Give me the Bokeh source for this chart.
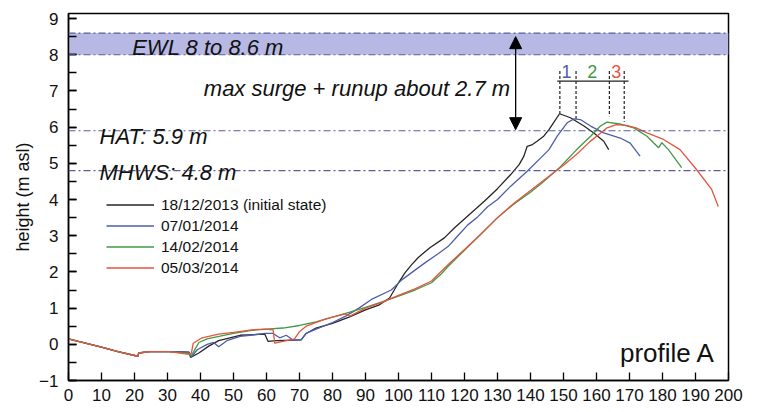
from bokeh.plotting import figure
from bokeh.models import (ColumnDataSource, Range1d, SingleIntervalTicker, Arrow,
                          NormalHead, Span, BoxAnnotation, Label)
from bokeh.core.properties import value
from bokeh.embed import file_html
from bokeh.resources import INLINE

# ---------------- data ----------------
common_x = [0, 3, 10, 15, 21, 21.3, 24.5, 30.5]
common_y = [0.15, 0.08, -0.08, -0.2, -0.33, -0.24, -0.2, -0.2]

black_x = common_x + [36.5, 37, 39.5, 42.5, 45.5, 52, 59.5, 60.5, 63, 70.5, 72, 75, 80, 85, 90,
                      94, 97.3, 100, 102, 104, 106, 109.5, 113.9, 117, 122, 126, 130, 134,
                      136.6, 138, 139, 140.6, 142, 144, 145.6, 148.8, 152.1, 156.2, 159.2,
                      162.2, 163.7]
black_y = common_y + [-0.22, -0.36, -0.24, -0.05, 0.1, 0.25, 0.28, 0.08, 0.1, 0.12, 0.3, 0.45,
                      0.58, 0.75, 0.95, 1.08, 1.28, 1.7, 1.98, 2.2, 2.4, 2.67, 2.94, 3.22, 3.63,
                      3.95, 4.3, 4.69, 4.97, 5.2, 5.47, 5.52, 5.61, 5.75, 5.93, 6.37, 6.26,
                      6.03, 5.84, 5.61, 5.38]

blue_x = common_x + [36.5, 37.2, 39, 42, 44, 45.5, 48, 52, 55, 59.5, 62, 64, 66, 68, 70.5, 72,
                     75, 80, 84, 88, 91.8, 97.8, 101, 105, 108, 112, 115, 118, 121, 124, 127,
                     130, 134, 139, 143.1, 145.6, 148.1, 151.1, 153.2, 155.1, 158.2, 162.2,
                     167.2, 170.2, 173.2]
blue_y = common_y + [-0.22, -0.35, -0.15, 0.0, 0.05, -0.07, 0.1, 0.22, 0.25, 0.3, 0.3, 0.18,
                     0.25, 0.12, 0.12, 0.3, 0.42, 0.6, 0.78, 1.0, 1.24, 1.5, 1.78, 2.05, 2.25,
                     2.5, 2.7, 3.0, 3.3, 3.52, 3.8, 4.0, 4.37, 4.78, 5.15, 5.38, 5.75, 6.12,
                     6.23, 6.21, 6.03, 5.84, 5.7, 5.56, 5.2]

green_x = common_x + [36.5, 37.2, 39.5, 42, 44.5, 50, 55, 60, 65, 70, 75, 80, 85, 90, 95, 100,
                      105, 110, 113, 115, 120, 125, 130, 135, 140, 144, 149, 154, 158.2, 161.2,
                      163.2, 167.5, 171.3, 175.3, 178.8, 179.8, 181.8, 185.8]
green_y = common_y + [-0.25, -0.32, 0.05, 0.15, 0.2, 0.3, 0.38, 0.42, 0.45, 0.52, 0.62, 0.75,
                      0.88, 1.02, 1.17, 1.33, 1.5, 1.7, 1.95, 2.15, 2.6, 3.05, 3.5, 3.88, 4.2,
                      4.5, 4.9, 5.38, 5.75, 6.03, 6.14, 6.08, 5.98, 5.75, 5.43, 5.57, 5.38, 4.88]

red_x = common_x + [36.5, 37.2, 37.8, 40.5, 45.5, 50, 55.5, 59.6, 62, 62.5, 68.5, 70, 72, 78,
                    83.8, 85.3, 90, 95, 100, 105, 110, 115, 120, 125, 130, 135, 140, 145, 150,
                    154, 158, 161, 163, 166, 169, 172, 175.3, 180.3, 185.3, 190.3, 194.9, 196.9]
red_y = common_y + [-0.28, -0.25, 0.03, 0.18, 0.28, 0.33, 0.4, 0.42, 0.4, 0.03, 0.15, 0.35, 0.5,
                    0.7, 0.84, 0.78, 1.0, 1.16, 1.35, 1.53, 1.75, 2.2, 2.62, 3.05, 3.5, 3.9,
                    4.25, 4.6, 4.95, 5.25, 5.6, 5.82, 5.97, 6.07, 6.05, 5.98, 5.84, 5.66, 5.38,
                    4.83, 4.28, 3.81]

series_labels = ["18/12/2013 (initial state)", "07/01/2014", "14/02/2014", "05/03/2014"]
series_colors = ["#262626", "#4f5dab", "#3f9a45", "#e5553d"]

EWL_LOW, EWL_HIGH = 8.0, 8.6
HAT = 5.9
MHWS = 4.8

# crest markers (bracket) : x positions of crests and their heights
crest_x = [148.9, 153.8, 163.9, 168.4]
crest_top = [6.37, 6.23, 6.3, 6.15]
bracket_y = 7.27
bracket_top = 7.55
crest_num_x = [150.9, 158.7, 166.0]
crest_num = ["1", "2", "3"]
crest_num_colors = ["#4f5dab", "#3f9a45", "#e5553d"]

arrow_x = 135.5
arrow_y0, arrow_y1 = 8.5, 5.93

# ---------------- figure ----------------
p = figure(width=749, height=403, output_backend="svg", toolbar_location=None,
           x_range=Range1d(0, 200), y_range=Range1d(-1, 9.14),
           min_border_left=68, min_border_right=21, min_border_top=13, min_border_bottom=23)
p.grid.visible = False
p.outline_line_color = "black"
p.outline_line_width = 1.5
p.background_fill_color = "white"

FONT = "Liberation Sans"

p.xaxis.ticker = SingleIntervalTicker(interval=10)
p.yaxis.ticker = SingleIntervalTicker(interval=1, num_minor_ticks=2)
for ax in (p.xaxis, p.yaxis):
    ax.axis_line_color = "black"
    ax.axis_line_width = 1.5
    ax.major_tick_in = 8
    ax.major_tick_out = 0
    ax.major_tick_line_width = 1.3
    ax.major_tick_line_color = "black"
    ax.major_label_text_font = FONT
    ax.major_label_text_font_size = "17px"
    ax.major_label_text_color = "#111111"
p.xaxis.minor_tick_line_color = None
p.yaxis.minor_tick_in = 8
p.yaxis.minor_tick_out = 0
p.yaxis.minor_tick_line_width = 1.3
p.yaxis.minor_tick_line_color = "black"
p.xaxis.major_label_standoff = 4
p.yaxis.major_label_standoff = 10
p.yaxis.axis_label = "height (m asl)"
p.yaxis.axis_label_text_font = FONT
p.yaxis.axis_label_text_font_style = "normal"
p.yaxis.axis_label_text_font_size = "18px"
p.yaxis.axis_label_text_color = "#111111"
p.yaxis.axis_label_standoff = 3

# EWL band and levels
p.add_layout(BoxAnnotation(bottom=EWL_LOW, top=EWL_HIGH, fill_color="#b7b8e4", fill_alpha=1.0,
                           line_color=None, level="underlay"))
for lvl in (EWL_LOW, EWL_HIGH, HAT, MHWS):
    p.add_layout(Span(location=lvl, dimension="width", line_color="#5c5c9c",
                      line_width=1.2, line_dash="7 3 2 3"))

# profiles
xs = [black_x, blue_x, green_x, red_x]
ys = [black_y, blue_y, green_y, red_y]
for x, y, lab, col in zip(xs, ys, series_labels, series_colors):
    src = ColumnDataSource(dict(x=x, y=y))
    p.line("x", "y", source=src, line_color=col, line_width=1.3, legend_label=lab)

lg = p.legend[0]
lg.location = (38, 102)
lg.padding = 0
lg.margin = 0
lg.spacing = 0
lg.label_height = 21
lg.glyph_height = 21
lg.glyph_width = 48
lg.label_standoff = 7
lg.border_line_color = None
lg.background_fill_alpha = 0
lg.label_text_font = FONT
lg.label_text_font_size = "15.5px"
lg.label_text_color = "#111111"

# bracket with crest markers
p.line(x=[crest_x[0] - 0.8, crest_x[-1] + 1.3], y=[bracket_y, bracket_y], line_color="#222222",
       line_width=1.3)
p.segment(x0=crest_x, y0=[bracket_top] * 4, x1=crest_x, y1=crest_top, line_color="#222222",
          line_width=1.2, line_dash="3 2")
p.text(x=crest_num_x, y=[bracket_top] * 3, text=crest_num, text_color=crest_num_colors,
       text_align="center", text_baseline="middle", text_font=value(FONT),
       text_font_size="18px")

# arrow
p.add_layout(Arrow(start=NormalHead(size=12, fill_color="black", line_color="black"),
                   end=NormalHead(size=12, fill_color="black", line_color="black"),
                   x_start=arrow_x, y_start=arrow_y0, x_end=arrow_x, y_end=arrow_y1,
                   line_color="black", line_width=1.3))

# annotation texts
ann = [("EWL 8 to 8.6 m", 19.3, 8.2), ("max surge + runup about 2.7 m", 41.0, 7.07),
       ("HAT: 5.9 m", 9.4, 5.73), ("MHWS: 4.8 m", 9.4, 4.76)]
for t, x, y in ann:
    p.add_layout(Label(x=x, y=y, text=t, text_font=FONT, text_font_style="italic",
                       text_font_size="22px", text_color="#111111",
                       text_baseline="alphabetic"))

p.add_layout(Label(x=196, y=-0.25, text="profile A", text_font=FONT, text_font_size="26px",
                   text_color="#111111", text_align="right", text_baseline="alphabetic"))

open("out.html", "w").write(file_html(p, INLINE))
